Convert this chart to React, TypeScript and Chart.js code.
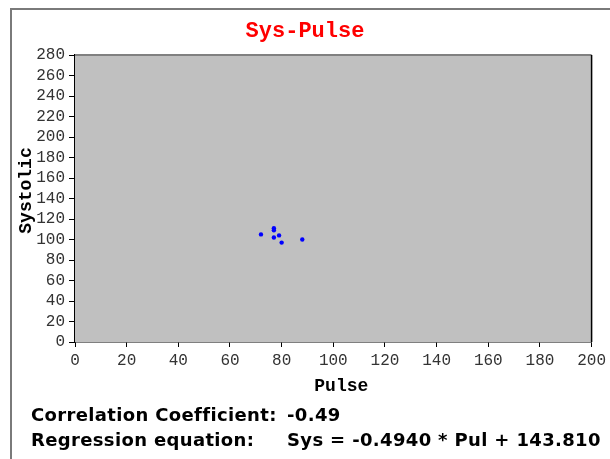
import React, { useEffect, useRef } from "react";
import { Chart, registerables } from "chart.js";

Chart.register(...registerables);

const chartTitle = "Sys-Pulse";
const xTitle = "Pulse";
const yTitle = "Systolic";
const pulse = [72, 77, 77, 77, 79, 80, 88];
const systolic = [105, 111, 109, 102, 104, 97, 100];
const xMin = 0, xMax = 200, xStep = 20;
const yMin = 0, yMax = 280, yStep = 20;
const corrLabel = "Correlation Coefficient:";
const corrValue = "-0.49";
const regLabel = "Regression equation:";
const regValue = "Sys = -0.4940 * Pul + 143.810";

const MONO = "'Liberation Mono', 'Courier New', monospace";

const plotPlugin = {
  id: "plotDeco",
  beforeDatasetsDraw(chart: any) {
    const { ctx, chartArea: a } = chart;
    ctx.save();
    ctx.fillStyle = "#c0c0c0";
    ctx.fillRect(a.left, a.top, a.right - a.left, a.bottom - a.top);
    ctx.strokeStyle = "#808080";
    ctx.lineWidth = 2;
    ctx.beginPath();
    ctx.moveTo(a.left, a.top);
    ctx.lineTo(a.right, a.top);
    ctx.stroke();
    ctx.strokeStyle = "#000";
    ctx.lineWidth = 1.5;
    ctx.beginPath();
    ctx.moveTo(a.right, a.top);
    ctx.lineTo(a.right, a.bottom);
    ctx.stroke();
    ctx.restore();
  },
  afterDraw(chart: any) {
    const { ctx, chartArea: a, width } = chart;
    ctx.save();
    ctx.textAlign = "center";
    ctx.textBaseline = "middle";
    ctx.fillStyle = "#ff0000";
    ctx.font = `bold 22px ${MONO}`;
    ctx.fillText(chartTitle, width / 2, 31);
    ctx.fillStyle = "#000";
    ctx.font = `bold 18px ${MONO}`;
    ctx.fillText(xTitle, (a.left + a.right) / 2 + 8, a.bottom + 44);
    ctx.translate(26, (a.top + a.bottom) / 2 - 8);
    ctx.rotate(-Math.PI / 2);
    ctx.fillText(yTitle, 0, 0);
    ctx.restore();
  },
};

export default function App() {
  const ref = useRef<HTMLCanvasElement | null>(null);
  useEffect(() => {
    if (!ref.current) return;
    const chart = new Chart(ref.current, {
      type: "scatter",
      data: {
        datasets: [
          {
            label: "Sys-Pulse",
            data: pulse.map((x, i) => ({ x, y: systolic[i] })),
            backgroundColor: "#0000ff",
            borderColor: "#0000ff",
            pointRadius: 2.2,
            borderWidth: 0,
          },
        ],
      },
      options: {
        responsive: false,
        animation: false,
        layout: { padding: { left: 0, right: 17, top: 55, bottom: 58 } },
        plugins: {
          legend: { display: false },
          tooltip: { enabled: false },
          title: { display: false },
        },
        scales: {
          x: {
            type: "linear",
            min: xMin,
            max: xMax,
            ticks: {
              stepSize: xStep,
              autoSkip: false,
              color: "#333",
              padding: 4,
              maxRotation: 0,
              font: { family: MONO, size: 16 },
            },
            grid: { display: true, drawOnChartArea: false, drawTicks: true, tickLength: 5, tickColor: "#000" },
            border: { display: true, color: "#000", width: 1.5 },
            afterFit(scale: any) {
              scale.height = 59;
            },
          },
          y: {
            type: "linear",
            min: yMin,
            max: yMax,
            ticks: {
              stepSize: yStep,
              autoSkip: false,
              color: "#333",
              padding: 4,
              font: { family: MONO, size: 16 },
            },
            grid: { display: true, drawOnChartArea: false, drawTicks: true, tickLength: 6, tickColor: "#000" },
            border: { display: true, color: "#000", width: 1.5 },
            afterFit(scale: any) {
              scale.width = 75;
            },
          },
        },
      },
      plugins: [plotPlugin],
    } as any);
    return () => chart.destroy();
  }, []);

  const textStyle: React.CSSProperties = {
    position: "absolute",
    fontFamily: "'DejaVu Sans', Verdana, sans-serif",
    fontWeight: "bold",
    fontSize: 18,
    letterSpacing: "0.35px",
    lineHeight: "22px",
    color: "#000",
    whiteSpace: "nowrap",
  };

  return (
    <div style={{ position: "fixed", left: 0, top: 0, width: 610, height: 459, overflow: "hidden", background: "#fff" }}>
      <div
        style={{
          position: "absolute",
          left: 10,
          top: 8,
          width: 700,
          height: 700,
          borderTop: "2px solid #7a7a7a",
          borderLeft: "2px solid #7a7a7a",
        }}
      />
      <canvas ref={ref} width={610} height={459} style={{ position: "absolute", left: 0, top: 0, width: 610, height: 459 }} />
      <div style={{ ...textStyle, left: 31, top: 404 }}>{corrLabel}</div>
      <div style={{ ...textStyle, left: 287, top: 404 }}>{corrValue}</div>
      <div style={{ ...textStyle, left: 31, top: 429 }}>{regLabel}</div>
      <div style={{ ...textStyle, left: 287, top: 429 }}>{regValue}</div>
    </div>
  );
}
